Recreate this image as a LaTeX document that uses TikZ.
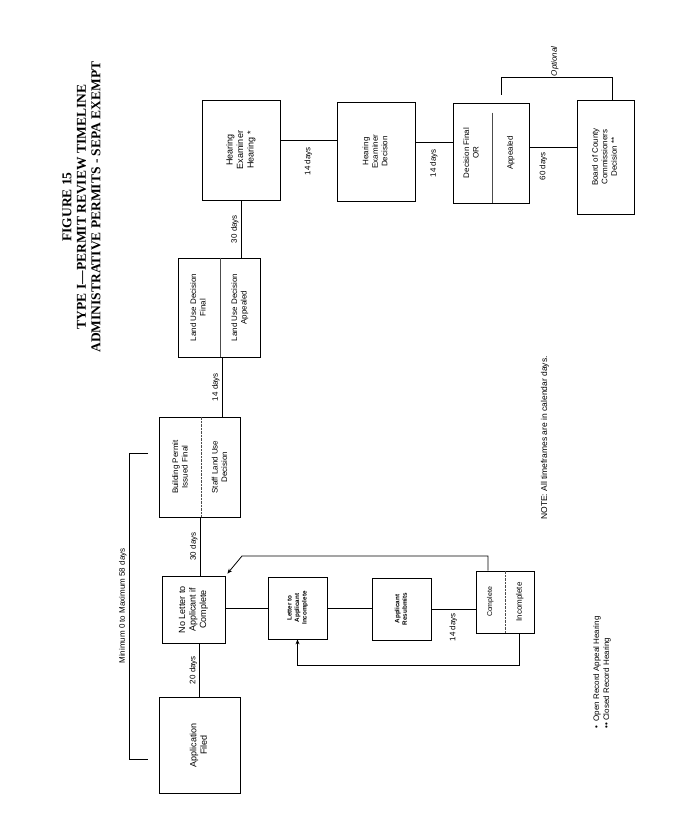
\documentclass[tikz,border=0pt]{standalone}
\usepackage{fontspec}
\setmainfont{Liberation Sans}
\newfontfamily\titlefont{Liberation Serif}
\usetikzlibrary{arrows.meta}
\newcommand{\rt}[1]{\rotatebox{90}{\begin{tabular}{@{}c@{}}#1\end{tabular}}}
\begin{document}
\begin{tikzpicture}[x=1pt,y=-1pt,line width=0.8pt,
  box/.style={draw,inner sep=0pt},
  tn/.style={inner sep=0pt,font=\fontsize{9}{10.5}\selectfont},
  ts/.style={inner sep=0pt,font=\fontsize{8}{9.5}\selectfont},
  tb/.style={inner sep=0pt,font=\bfseries\fontsize{6.3}{7.5}\selectfont},
  lab/.style={inner sep=1pt,font=\fontsize{8}{9}\selectfont},
  div/.style={line width=0.4pt,black!70},
  arr/.style={-{Stealth[length=5pt,width=4pt]}}]
\useasboundingbox (0,0) rectangle (684,837);

% title
\node[inner sep=0pt,font=\titlefont\bfseries\fontsize{13.5}{14.5}\selectfont] (title) at (83,207)
  {\rt{FIGURE 15\\TYPE I—PERMIT REVIEW TIMELINE\\ADMINISTRATIVE PERMITS - SEPA EXEMPT}};

% boxes
\node[box,tn,minimum width=81,minimum height=96] (app) at (199.5,745) {\rt{Application\\Filed}};
\node[box,tn,minimum width=63,minimum height=67] (nolet) at (193.5,609.5) {\rt{No Letter to\\Applicant if\\Complete}};

\node[box,minimum width=81,minimum height=100] (bp) at (199.5,467) {};
\node[ts] (bpa) at (181,467) {\rt{Building Permit\\Issued Final}};
\node[ts] (bpb) at (220.5,467) {\rt{Staff Land Use\\Decision}};
\draw[div,densely dotted] ([xshift=1.5pt]bp.north) -- ([xshift=1.5pt]bp.south);

\node[box,minimum width=82,minimum height=99] (lu) at (219,307.5) {};
\node[ts] (lua) at (199,307.5) {\rt{Land Use Decision\\Final}};
\node[ts] (lub) at (240,307.5) {\rt{Land Use Decision\\Appealed}};
\draw[div] ([xshift=1pt]lu.north) -- ([xshift=1pt]lu.south);

\node[box,tn,minimum width=78,minimum height=100] (heh) at (241,150) {\rt{Hearing\\Examiner\\Hearing *}};
\node[box,ts,minimum width=78,minimum height=99] (hed) at (376,151.5) {\rt{Hearing\\Examiner\\Decision}};

\node[box,minimum width=76,minimum height=100] (dec) at (491,153) {};
\node[ts] (deca) at (472,153) {\rt{Decision Final\\OR}};
\node[ts] (decb) at (511,153) {\rt{Appealed}};
\draw[div] ([xshift=1pt,yshift=-10pt]dec.north) -- ([xshift=1pt]dec.south);

\node[box,ts,minimum width=57,minimum height=114] (bcc) at (605.5,157) {\rt{Board of County\\Commissioners\\Decision **}};

\node[box,tb,minimum width=59,minimum height=62] (let) at (297.5,608) {\rt{Letter to\\Applicant\\Incomplete}};
\node[box,tb,minimum width=59,minimum height=62] (res) at (401.5,609) {\rt{Applicant\\Resubmits}};

\node[box,minimum width=58,minimum height=62] (cmp) at (505,602) {};
\node[inner sep=0pt,font=\fontsize{7}{8}\selectfont] (cmpa) at (490.5,602) {\rt{Complete}};
\node[ts] (cmpb) at (520,602) {\rt{Incomplete}};
\draw[div,densely dotted] (cmp.north) -- (cmp.south);

% vertical chain
\draw (app.north) -- node[lab,anchor=east]{\rt{20 days}} (app.north |- nolet.south);
\draw ([xshift=6.5pt]nolet.north) -- node[lab,anchor=east]{\rt{30 days}} ([xshift=6.5pt]nolet.north |- bp.south);
\draw ([xshift=22.5pt]bp.north) -- node[lab,anchor=east]{\rt{14 days}} ([xshift=22.5pt]bp.north |- lu.south);
\draw ([xshift=22pt]lu.north) -- node[lab,anchor=east]{\rt{30 days}} (heh.south);

% top row
\draw ([yshift=10pt]heh.east) -- node[lab,anchor=north,yshift=-6pt]{\rt{14 days}} ([yshift=10pt]heh.east -| hed.west);
\draw ([yshift=9.5pt]hed.east) -- node[lab,anchor=north,yshift=-6pt]{\rt{14 days}} ([yshift=9.5pt]hed.east -| dec.west);
\draw ([yshift=6pt]dec.east) -- node[lab,anchor=north,yshift=-4pt,pos=0.3]{\rt{60 days}} ([yshift=6pt]dec.east -| bcc.west);
\draw ([xshift=10pt,yshift=8pt]dec.north) -- ++(0,-17) coordinate (optc) -| ([xshift=6.5pt]bcc.north);
\node[lab,anchor=south,font=\itshape\fontsize{8}{9}\selectfont] (optl) at ([xshift=54pt]optc) {\rt{Optional}};

% bottom row
\draw (nolet.east |- let.west) -- (let.west);
\draw (let.east) -- (let.east -| res.west);
\draw (res.east) -- node[lab,anchor=north,yshift=-3pt]{\rt{14 days}} (res.east -| cmp.west);

% feedback loops
\coordinate (fb1) at (242,556);
\draw[arr] ([xshift=-17pt]cmp.north) |- (fb1) -- ([shift={(2pt,2pt)}]nolet.north east);
\draw[arr] ([xshift=14.5pt]cmp.south) -- ++(0,32) -| (let.south);

% min-max bracket
\coordinate (mt) at (148,453);
\coordinate (mb) at (148,759);
\draw (mt) -- (129,453) -- node[lab,anchor=east]{\rt{Minimum 0 to Maximum 58 days}} (129,759) -- (mb);

% notes
\node[inner sep=0pt,font=\fontsize{8.5}{10}\selectfont] (note) at (545,438) {\rt{NOTE: All timeframes are in calendar days.}};
\node[inner sep=0pt,anchor=south,font=\fontsize{8}{10}\selectfont] (fn) at (602,729)
  {\rotatebox{90}{\begin{tabular}{@{}l@{}}•\ \ Open Record Appeal Hearing\\••\ Closed Record Hearing\end{tabular}}};
\end{tikzpicture}
\end{document}
